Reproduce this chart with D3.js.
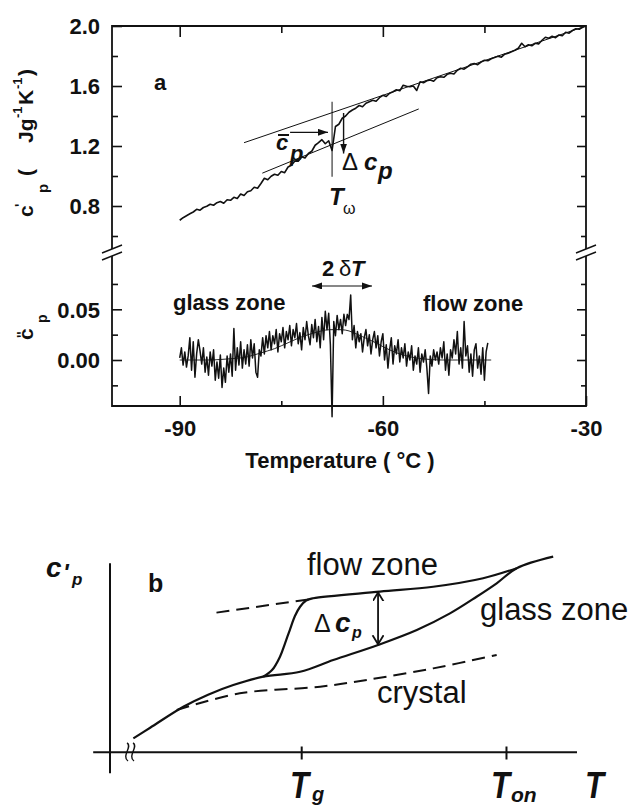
<!DOCTYPE html>
<html><head><meta charset="utf-8">
<script src="https://cdn.jsdelivr.net/npm/d3@7"></script>
<style>body{margin:0;background:#fff} text{font-family:"Liberation Sans",Arial,Helvetica,sans-serif;fill:#111}</style>
</head><body>
<svg id="chart" width="640" height="806"></svg>
<script>
// ---------- Panel a data ----------
const realStart = -90, realStep = 0.5;
const cpReal = [0.705,0.722,0.735,0.748,0.760,0.778,0.772,0.790,0.798,0.812,
 0.805,0.822,0.830,0.818,0.842,0.838,0.858,0.850,0.880,0.870,
 0.895,0.902,0.925,0.918,0.950,0.985,0.975,0.998,1.012,1.005,
 1.030,1.022,1.060,1.072,1.100,1.098,1.128,1.120,1.150,1.165,
 1.205,1.222,1.242,1.215,1.235,1.170,1.330,1.345,1.385,1.400,
 1.425,1.440,1.452,1.470,1.462,1.485,1.495,1.505,1.498,1.522,
 1.538,1.530,1.552,1.562,1.575,1.568,1.605,1.598,1.595,1.600,
 1.570,1.628,1.622,1.635,1.640,1.632,1.655,1.662,1.658,1.678,
 1.685,1.680,1.705,1.718,1.712,1.728,1.745,1.750,1.742,1.760,
 1.772,1.768,1.782,1.790,1.798,1.792,1.812,1.818,1.828,1.838,
 1.852,1.885,1.862,1.875,1.868,1.885,1.880,1.905,1.925,1.918,
 1.932,1.922,1.940,1.935,1.958,1.952,1.970,1.982,1.978,1.992,2.000];

const imagStart = -90, imagStep = 0.25;
const cpImag = [0.002,0.012,-0.005,0.008,-0.007,0.004,0.022,-0.010,0.018,-0.017,
 0.006,0.020,0.009,-0.004,0.012,-0.012,0.003,-0.015,0.008,-0.006,
 0.010,-0.020,-0.002,-0.018,0.005,-0.027,-0.008,-0.022,0.004,-0.012,
 0.006,-0.016,0.031,-0.010,0.012,-0.005,0.018,-0.008,0.010,-0.004,
 0.015,-0.006,0.020,0.002,0.016,-0.012,-0.017,0.010,0.004,0.022,
 0.006,0.024,0.012,0.028,0.010,0.024,0.016,0.030,0.008,0.026,
 0.018,0.032,0.012,0.028,0.020,0.034,0.014,0.030,0.022,0.036,
 0.016,0.027,0.010,0.032,0.020,0.038,0.024,0.015,0.035,0.022,
 0.040,0.018,0.033,0.012,0.042,0.020,0.048,0.030,0.046,0.015,
 -0.056,0.038,0.024,0.044,0.030,0.040,0.026,0.045,0.034,0.045,
 0.040,0.064,0.020,0.034,0.012,0.028,0.018,0.026,0.008,0.022,
 0.030,0.014,0.025,0.006,0.020,0.028,0.012,0.024,0.004,0.018,
 0.026,0.000,0.015,-0.008,0.010,0.022,-0.004,0.014,0.006,0.020,
 -0.002,0.012,0.002,0.016,-0.006,0.008,0.000,0.014,-0.010,0.004,
 -0.004,0.012,-0.012,0.006,-0.002,0.010,-0.008,-0.033,0.004,-0.006,
 0.010,0.000,0.008,-0.004,0.012,0.002,0.018,-0.010,0.006,-0.015,
 0.010,0.002,0.020,0.006,0.028,-0.004,0.012,-0.008,0.038,0.004,
 0.014,-0.012,0.006,-0.016,0.010,0.016,-0.008,0.004,-0.014,0.012,
 -0.020,0.008,0.017];

const smoothStart = -90, smoothStep = 1;
const cpImagFit = [0,0,0,0,0,0,0.0005,0.001,0.0015,0.002,
 0.003,0.005,0.007,0.009,0.011,0.014,0.017,0.020,0.023,0.025,
 0.027,0.029,0.030,0.030,0.030,0.029,0.026,0.023,0.020,0.017,
 0.013,0.010,0.007,0.005,0.003,0.002,0.001,0.0005,0,0,
 0,0,0,0,0,0,0];

const tangentUpper = [[-80.5,1.222],[-30,2.0]];
const tangentLower = [[-77.8,1.019],[-54.7,1.447]];
const tOmega = -67.5;

const xTicksMajor = [-90,-60,-30], xTicksMinor = [-75,-45];
const yUpMajor = [0.8,1.2,1.6,2.0], yUpMinor = [0.6,1.0,1.4,1.8];
const yLoMajor = [0.00,0.05], yLoMinor = [-0.025,0.025,0.075];

// ---------- Panel b (schematic) data ----------
const glassCurve = [[5.0,7.4],[8.6,13.0],[15.7,24.1],[21,30.5],[26.4,35.6],[32.8,40.0],[40.7,42.6],[47.8,48.8],[57.4,56.8],[65.7,64.7],[72.8,73.5],[78.5,82.3],[82.8,89.4],[87.1,97.4],[94.9,103.5]];
const flowCurve = [[32.8,40.0],[34.7,43.5],[36.4,50.6],[37.5,57.8],[38.5,64.7],[39.6,72.1],[40.7,77.0],[42.0,80.3],[43.5,81.5],[57.8,85.0],[69.2,87.6],[79.9,92.1],[87.1,97.4]];
const liquidExtrap = [[22.8,73.9],[42.8,81.0]];
const crystalCurve = [[14.3,22.4],[27.8,31.2],[45.0,34.7],[55.0,38.3],[69.2,44.4],[82.8,51.5]];
const bTicks = [41.05, 84.9];
const deltaAt = 57.4;

// ---------- drawing ----------
const svg = d3.select("#chart");
const defs = svg.append("defs");
defs.append("marker").attr("id","ah").attr("markerUnits","userSpaceOnUse")
  .attr("markerWidth",12).attr("markerHeight",8).attr("refX",10).attr("refY",3.5)
  .attr("orient","auto-start-reverse")
  .append("path").attr("d","M0,0 L10,3.5 L0,7 Z").attr("fill","#111");
defs.append("marker").attr("id","ov").attr("markerUnits","userSpaceOnUse")
  .attr("markerWidth",14).attr("markerHeight",14).attr("refX",9).attr("refY",5.5)
  .attr("orient","auto-start-reverse")
  .append("path").attr("d","M0,0 L9,5.5 L0,11").attr("fill","none").attr("stroke","#111").attr("stroke-width",1.8);

const x = d3.scaleLinear().domain([-100,-30]).range([112,586]);
const yUp = d3.scaleLinear().domain([0.8,2.0]).range([206,26]);
const yLo = d3.scaleLinear().domain([0,0.05]).range([360,309.3]);

const L=112,R=586,T=26,B=406, breakTop=249, breakBot=256;
const frame = svg.append("g").attr("stroke","#111").attr("stroke-width",1.8).attr("fill","none");
frame.append("path").attr("d",`M${L},${breakTop}V${T}H${R}V${breakTop}`);
frame.append("path").attr("d",`M${L},${breakBot}V${B}H${R}V${breakBot}`);
// break marks
[L,R].forEach(bx=>{
  [0,7].forEach(o=>{
    frame.append("line").attr("x1",bx-10).attr("y1",253+o).attr("x2",bx+10).attr("y2",245+o).attr("stroke-width",1.5);
  });
});

function styleAxis(g,size){ g.select(".domain").remove(); g.selectAll("line").attr("stroke","#111").attr("stroke-width",1.6);
  g.selectAll("text").attr("font-size",size||22).attr("font-weight","bold").attr("fill","#111").attr("font-family",'"Liberation Sans",Arial,sans-serif'); }
const hy = d => String(d); // plain hyphen-minus as in the reference

// y axes upper
svg.append("g").attr("transform",`translate(${L},0)`).call(d3.axisLeft(yUp).tickValues(yUpMajor).tickSize(-10).tickPadding(12).tickFormat(d=>d.toFixed(1))).call(styleAxis).selectAll("text").attr("dy","0.36em");
svg.append("g").attr("transform",`translate(${L},0)`).call(d3.axisLeft(yUp).tickValues(yUpMinor).tickSize(-6).tickFormat("")).call(styleAxis);
svg.append("g").attr("transform",`translate(${R},0)`).call(d3.axisRight(yUp).tickValues(yUpMajor.slice(0,3)).tickSize(-9).tickFormat("")).call(styleAxis);
svg.append("g").attr("transform",`translate(${R},0)`).call(d3.axisRight(yUp).tickValues(yUpMinor).tickSize(-5).tickFormat("")).call(styleAxis);
// y axes lower
svg.append("g").attr("transform",`translate(${L},0)`).call(d3.axisLeft(yLo).tickValues(yLoMajor).tickSize(-10).tickPadding(12).tickFormat(d=>d.toFixed(2))).call(styleAxis).selectAll("text").attr("dy","0.36em");
svg.append("g").attr("transform",`translate(${L},0)`).call(d3.axisLeft(yLo).tickValues(yLoMinor).tickSize(-6).tickFormat("")).call(styleAxis);
svg.append("g").attr("transform",`translate(${R},0)`).call(d3.axisRight(yLo).tickValues(yLoMajor).tickSize(-9).tickFormat("")).call(styleAxis);
svg.append("g").attr("transform",`translate(${R},0)`).call(d3.axisRight(yLo).tickValues(yLoMinor).tickSize(-5).tickFormat("")).call(styleAxis);
// x axes
svg.append("g").attr("transform",`translate(0,${B})`).call(d3.axisBottom(x).tickValues(xTicksMajor).tickSize(-10).tickPadding(14).tickFormat(hy)).call(styleAxis);
svg.append("g").attr("transform",`translate(0,${B})`).call(d3.axisBottom(x).tickValues(xTicksMinor).tickSize(-5).tickFormat("")).call(styleAxis);
svg.append("g").attr("transform",`translate(0,${T})`).call(d3.axisTop(x).tickValues(xTicksMajor.slice(0,2)).tickSize(-11).tickFormat("")).call(styleAxis);
svg.append("g").attr("transform",`translate(0,${T})`).call(d3.axisTop(x).tickValues(xTicksMinor).tickSize(-7).tickFormat("")).call(styleAxis);

// tangents
const lineUp = d3.line().x(d=>x(d[0])).y(d=>yUp(d[1]));
[tangentUpper,tangentLower].forEach(t=>svg.append("path").attr("d",lineUp(t)).attr("stroke","#111").attr("stroke-width",1).attr("fill","none"));
// real part
const realPts = cpReal.map((v,i)=>[realStart+i*realStep,v]);
svg.append("path").attr("d",lineUp(realPts)).attr("stroke","#111").attr("stroke-width",1.6).attr("fill","none").attr("stroke-linejoin","round");
// T omega line
svg.append("line").attr("x1",x(tOmega)).attr("x2",x(tOmega)).attr("y1",yUp(1.495)).attr("y2",yUp(0.995)).attr("stroke","#111").attr("stroke-width",1);
// cbar arrow
svg.append("line").attr("x1",x(-73.7)).attr("x2",x(-68.1)).attr("y1",yUp(1.291)).attr("y2",yUp(1.291)).attr("stroke","#111").attr("stroke-width",1.2).attr("marker-end","url(#ah)");
// delta cp arrow
svg.append("line").attr("x1",x(-65.8)).attr("x2",x(-65.8)).attr("y1",yUp(1.42)).attr("y2",yUp(1.15)).attr("stroke","#111").attr("stroke-width",1.4).attr("marker-end","url(#ah)");

// imaginary part
const fitLine = d3.line().x(d=>x(d[0])).y(d=>yLo(d[1])).curve(d3.curveBasis);
const fitPts = cpImagFit.map((v,i)=>[smoothStart+i*smoothStep,v]);
svg.append("path").attr("d",fitLine(fitPts)).attr("stroke","#111").attr("stroke-width",0.9).attr("fill","none");
const lineLo = d3.line().x(d=>x(d[0])).y(d=>yLo(d[1]));
const imagPts = cpImag.map((v,i)=>[imagStart+i*imagStep,v]);
svg.append("path").attr("d",lineLo(imagPts)).attr("stroke","#111").attr("stroke-width",1.5).attr("fill","none").attr("stroke-linejoin","round");
// 2 delta T arrow
svg.append("line").attr("x1",x(-70.46)).attr("x2",x(-61.6)).attr("y1",yLo(0.073)).attr("y2",yLo(0.073)).attr("stroke","#111").attr("stroke-width",1.2).attr("marker-start","url(#ah)").attr("marker-end","url(#ah)");

// texts panel a
function txt(g,xx,yy,s,opt={}){ const t=g.append("text").attr("x",xx).attr("y",yy).text(s)
  .attr("font-size",opt.size||22).attr("font-weight",opt.w||"bold");
  if(opt.i) t.attr("font-style","italic"); if(opt.f) t.attr("font-family",opt.f); if(opt.a) t.attr("text-anchor",opt.a);
  if(opt.tl) t.attr("textLength",opt.tl).attr("lengthAdjust","spacingAndGlyphs"); return t; }
txt(svg,154,90,"a");
txt(svg,340,468,"Temperature ( °C )",{a:"middle"});
txt(svg,173,310,"glass zone");
txt(svg,423,311,"flow zone");
// c bar p
txt(svg,276,150,"c",{i:1});
svg.append("line").attr("x1",278).attr("x2",289).attr("y1",135).attr("y2",135).attr("stroke","#111").attr("stroke-width",2);
txt(svg,290,161,"p",{i:1});
// delta cp
txt(svg,342,170,"Δ",{w:"normal",size:24});
txt(svg,364,170,"c",{i:1,size:24});
txt(svg,378,179,"p",{i:1,size:24});
// T omega
txt(svg,329,205,"T",{i:1,size:24});
txt(svg,343,214,"ω",{w:"normal",size:16,f:'"Liberation Serif","Times New Roman",serif'});
// 2 delta T
txt(svg,322,276,"2");
txt(svg,339,276,"δ",{w:"normal",f:'"Liberation Serif","Times New Roman",serif'});
txt(svg,351,276,"T",{i:1});

// y label upper (rotated)
const yl = svg.append("g").attr("transform","translate(33,217) rotate(-90)");
txt(yl,0,0,"c",{size:21});
txt(yl,10,-8,"'",{size:14});
txt(yl,24,15,"p",{size:15});
txt(yl,41,0,"(",{size:21});
txt(yl,74,0,"Jg",{size:21});
txt(yl,99,-11,"-1",{size:13});
txt(yl,112,0,"K",{size:21});
txt(yl,128,-11,"-1",{size:13});
txt(yl,141,0,")",{size:21});
// y label lower
const yl2 = svg.append("g").attr("transform","translate(33,340) rotate(-90)");
txt(yl2,0,0,"c",{size:21});
txt(yl2,2,-6,"''",{size:14});
txt(yl2,17,14,"p",{size:14});

// ---------- panel b ----------
const xB = d3.scaleLinear().domain([0,100]).range([110,577]);
const yB = d3.scaleLinear().domain([0,100]).range([752.3,563.3]);
const gb = svg.append("g");
gb.append("line").attr("x1",xB(0)).attr("x2",xB(0)).attr("y1",yB(100)).attr("y2",yB(-11.1)).attr("stroke","#111").attr("stroke-width",2);
gb.append("line").attr("x1",xB(-3.6)).attr("x2",xB(100)).attr("y1",yB(0)).attr("y2",yB(0)).attr("stroke","#111").attr("stroke-width",2);
bTicks.forEach(u=>gb.append("line").attr("x1",xB(u)).attr("x2",xB(u)).attr("y1",746.5).attr("y2",759.5).attr("stroke","#111").attr("stroke-width",2));
// squiggle break
[0,6].forEach(o=>gb.append("path").attr("d",`M${127+o},743 C${133+o},746 ${121+o},756 ${128+o},761`).attr("stroke","#111").attr("stroke-width",1.4).attr("fill","none"));
const lineB = d3.line().x(d=>xB(d[0])).y(d=>yB(d[1])).curve(d3.curveCatmullRom.alpha(0.5));
gb.append("path").attr("d",lineB(glassCurve)).attr("stroke","#111").attr("stroke-width",2.2).attr("fill","none");
gb.append("path").attr("d",lineB(flowCurve)).attr("stroke","#111").attr("stroke-width",2.2).attr("fill","none");
gb.append("path").attr("d",lineB(liquidExtrap)).attr("stroke","#111").attr("stroke-width",2).attr("fill","none").attr("stroke-dasharray","13,7");
gb.append("path").attr("d",lineB(crystalCurve)).attr("stroke","#111").attr("stroke-width",2).attr("fill","none").attr("stroke-dasharray","13,7");
gb.append("line").attr("x1",xB(deltaAt)).attr("x2",xB(deltaAt)).attr("y1",yB(84.6)).attr("y2",yB(57.2)).attr("stroke","#111").attr("stroke-width",1.8).attr("marker-start","url(#ov)").attr("marker-end","url(#ov)");

txt(gb,307,575,"flow zone",{w:"normal",size:31});
txt(gb,480,620,"glass zone",{w:"normal",size:31});
txt(gb,377,703,"crystal",{w:"normal",size:31});
txt(gb,314,632,"Δ",{w:"normal",size:25});
txt(gb,335,632,"c",{i:1,size:28});
txt(gb,352,638,"p",{i:1,size:16});
txt(gb,46,577,"c",{i:1,size:28});
txt(gb,63,581,"'",{i:1,size:24});
txt(gb,72,585,"p",{i:1,size:17});
txt(gb,148,592,"b",{size:25});
txt(gb,290,798,"T",{i:1,size:36,tl:19});
txt(gb,312,801,"g",{i:1,size:20});
txt(gb,491,798,"T",{i:1,size:36,tl:19});
txt(gb,511,802,"on",{i:1,size:21});
txt(gb,585,798,"T",{i:1,size:36,tl:19});
</script>
</body></html>
